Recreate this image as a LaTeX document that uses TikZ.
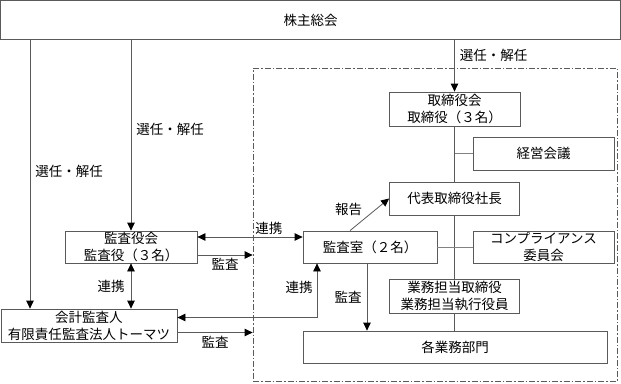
\documentclass[tikz,border=0pt]{standalone}
\usepackage{fontspec}
\usepackage{tikz}
\usetikzlibrary{positioning,arrows.meta,calc}
\setmainfont{Noto Sans CJK JP}
\definecolor{orgLine}{RGB}{90,90,90}
\definecolor{orgGray}{RGB}{130,130,130}

\begin{document}
\begin{tikzpicture}[
    x=1pt, y=-1pt,
    font=\fontsize{13.5}{17}\selectfont,
    org node/.style={rectangle, draw=orgLine, line width=0.8pt, fill=white, align=center, inner sep=0pt},
    group frame/.style={rectangle, draw=orgLine, line width=0.8pt, dash pattern=on 6pt off 2pt on 1.5pt off 2pt, inner sep=0pt},
    link/.style={draw=orgLine, line width=0.8pt},
    arrow/.style={link, -{Triangle[length=8pt,width=7.5pt,color=black]}},
    both arrow/.style={link, {Triangle[length=8pt,width=7.5pt,color=black]}-{Triangle[length=8pt,width=7.5pt,color=black]}},
    arrow note/.style={inner sep=1pt}
]
  \useasboundingbox (0,0) rectangle (621,383);

  % dashed frame round the company
  \node[group frame, minimum width=364pt, minimum height=313pt] (company) at (435,224.5) {};

  \node[org node, minimum width=620pt, minimum height=39pt] (gm) at (310.5,20) {株主総会};
  \node[org node, minimum width=131pt, minimum height=34pt] (board) at (454.5,109) {取締役会\\取締役（３名）};
  \node[org node, minimum width=141pt, minimum height=33pt] (mgmt) at (543.5,153.5) {経営会議};
  \node[org node, minimum width=130pt, minimum height=33pt] (pres) at (454.5,198.5) {代表取締役社長};
  \node[org node, minimum width=134pt, minimum height=32pt] (office) at (370,247) {監査室（２名）};
  \node[org node, minimum width=141pt, minimum height=32pt] (comp) at (543.5,247) {コンプライアンス\\委員会};
  \node[org node, minimum width=130pt, minimum height=34pt] (exec) at (454.5,296) {業務担当取締役\\業務担当執行役員};
  \node[org node, minimum width=304pt, minimum height=32pt] (depts) at (455,347) {各業務部門};
  \node[org node, minimum width=132pt, minimum height=32pt] (kansa) at (131,247) {監査役会\\監査役（３名）};
  \node[org node, minimum width=176pt, minimum height=33pt] (acct) at (89,325.5) {会計監査人\\有限責任監査法人トーマツ};

  \coordinate (left rail) at (30,0);

  % appointment lines
  \draw[arrow] (gm.south -| left rail) -- node[arrow note, right=4pt, pos=0.49] {選任・解任} (acct.north -| left rail);
  \draw[arrow] (gm.south -| kansa.north) -- node[arrow note, right=4pt, pos=0.47] {選任・解任} (kansa.north);
  \draw[arrow] (gm.south -| board.north) -- node[arrow note, right=4pt, pos=0.3] {選任・解任} (board.north);

  % company lines
  \draw[link] (board) -- (pres);
  \draw[link] (pres) -- (exec);
  \draw[link] (exec) -- (exec.south |- depts.north);
  \draw[link, draw=orgGray] (mgmt.west) -- (mgmt.west -| board.south);
  \draw[link, draw=orgGray] (office) -- (comp);

  % audit lines
  \draw[both arrow] ([yshift=10pt]kansa.east) -- node[arrow note, above=1pt, pos=0.68] {連携} ([yshift=10pt]office.west);
  \draw[arrow] ([yshift=-8pt]kansa.east) -- node[arrow note, below=2pt] {監査} ([yshift=-8pt]kansa.east -| company.west);
  \draw[both arrow] (kansa.south) -- node[arrow note, left=5pt] {連携} (kansa.south |- acct.north);
  \draw[arrow] ([yshift=-7pt]acct.east) -- node[arrow note, below=2pt] {監査} ([yshift=-7pt]acct.east -| company.west);
  \draw[both arrow] ([yshift=8pt]acct.east) -| node[arrow note, left=3pt, pos=0.78] {連携} ([xshift=-53pt]office.south);
  \draw[arrow] ([xshift=-20pt]office.north) -- node[arrow note, above left=1pt and 2pt, pos=0.4] {報告} (pres.west);
  \draw[arrow] ([xshift=-3pt]office.south) -- node[arrow note, left=4pt] {監査} ([xshift=-3pt]office.south |- depts.north);
\end{tikzpicture}
\end{document}
